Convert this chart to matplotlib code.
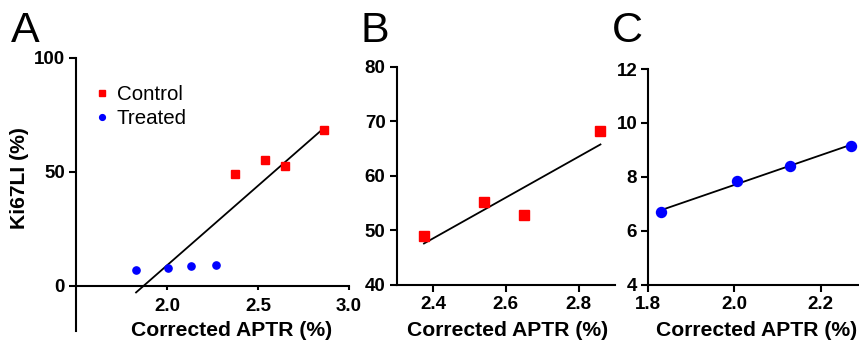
import numpy as np
import matplotlib
matplotlib.use("Agg")
import matplotlib.pyplot as plt

plt.rcParams['font.family'] = ['Liberation Sans', 'DejaVu Sans']
plt.rcParams['font.weight'] = 'bold'

# data
control_x = [2.375, 2.54, 2.65, 2.86]
control_y = [48.9, 55.1, 52.7, 68.2]
treated_x = [1.83, 2.005, 2.13, 2.27]
treated_y = [6.7, 7.85, 8.4, 9.15]

red = '#ff0000'
blue = '#0000ff'

W, H = 859, 348
fig = plt.figure(figsize=(W / 100, H / 100), dpi=100)


def px_axes(left, top, right, bottom):
    # axes box from pixel coordinates (y from top)
    return fig.add_axes([left / W, 1 - bottom / H, (right - left) / W, (bottom - top) / H])


def style(ax, xpad, ypad):
    for s in ['top', 'right']:
        ax.spines[s].set_visible(False)
    for s in ['left', 'bottom']:
        ax.spines[s].set_linewidth(1.5)
    ax.tick_params(axis='both', width=1.5, length=5, labelsize=13.5)
    ax.tick_params(axis='x', pad=xpad)
    ax.tick_params(axis='y', pad=ypad)


def fit_line(ax, x, y):
    x = np.asarray(x)
    y = np.asarray(y)
    k, b = np.polyfit(x, y, 1)
    xs = np.array([x.min(), x.max()])
    ax.plot(xs, k * xs + b, color='black', lw=1.3, zorder=2)


# ---- panel A
axA = px_axes(76, 58, 349, 331)
axA.set_xlim(1.5, 3.0)
axA.set_ylim(-20, 100)
axA.spines['bottom'].set_position(('data', 0))
fit_line(axA, control_x + treated_x, control_y + treated_y)
axA.plot(control_x, control_y, 's', color=red, ms=6, label='Control', zorder=3)
axA.plot(treated_x, treated_y, 'o', color=blue, ms=5.2, label='Treated', zorder=3)
axA.set_xticks([2.0, 2.5, 3.0])
axA.set_yticks([0, 50, 100])
style(axA, 6, 3)
axA.tick_params(axis='x', length=3)
axA.legend(loc='upper left', bbox_to_anchor=(96 / W, 1 - 85 / H),
           bbox_transform=fig.transFigure, frameon=False,
           prop={'size': 14.8, 'weight': 'normal'},
           handlelength=0.6, handletextpad=0.4, labelspacing=0.25,
           borderpad=0, borderaxespad=0, markerscale=0.8)

# ---- panel B
axB = px_axes(396.7, 66.7, 615, 284.7)
axB.set_xlim(2.3, 2.9)
axB.set_ylim(40, 80)
fit_line(axB, control_x, control_y)
axB.plot(control_x, control_y, 's', color=red, ms=7.2, zorder=3)
axB.set_xticks([2.4, 2.6, 2.8])
axB.set_yticks([40, 50, 60, 70, 80])
style(axB, 3, 3)

# ---- panel C
axC = px_axes(648.3, 69, 863.6, 284.7)
axC.set_xlim(1.8, 2.3)
axC.set_ylim(4, 12)
fit_line(axC, treated_x, treated_y)
axC.plot(treated_x, treated_y, 'o', color=blue, ms=7.2, zorder=3)
axC.set_xticks([1.8, 2.0, 2.2])
axC.set_yticks([4, 6, 8, 10, 12])
style(axC, 3, 3)

# axis titles
for xc in [232, 508, 757]:
    fig.text(xc / W, 1 - 330 / H, 'Corrected APTR (%)', ha='center', va='center',
             fontsize=15.2, fontweight='bold')
fig.text(20 / W, 1 - 178 / H, 'Ki67LI (%)', rotation=90, ha='center', va='center',
         fontsize=15.2, fontweight='bold')

# panel letters
for xl, letter in [(11, 'A'), (360, 'B'), (612, 'C')]:
    fig.text(xl / W, 1 - 42 / H, letter, ha='left', va='baseline', fontsize=31,
             fontweight='normal')

fig.savefig('out.png', dpi=100)
